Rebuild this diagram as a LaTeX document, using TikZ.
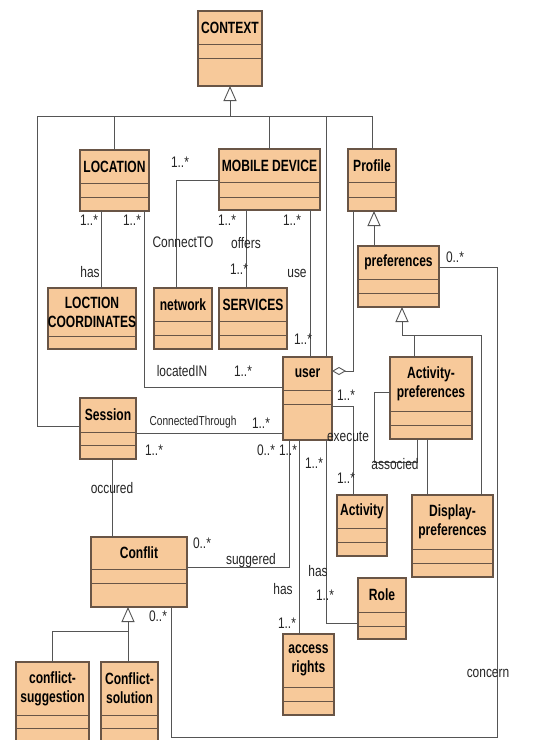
\documentclass[tikz,border=0pt]{standalone}
\usepackage{fontspec}
\setmainfont{Liberation Sans}
\newfontfamily\titlefont[FakeStretch=0.74]{Liberation Sans}
\newfontfamily\labfont[FakeStretch=0.78]{Liberation Sans}
\usetikzlibrary{arrows.meta,fit}
\definecolor{boxfill}{RGB}{247,201,154}
\definecolor{boxline}{RGB}{105,85,70}
\definecolor{connline}{RGB}{85,85,85}
\tikzset{
  clsbox/.style={draw=boxline, fill=boxfill, line width=1.1pt, inner sep=0pt, outer sep=0pt},
  septhin/.style={draw=boxline, line width=1pt},
  clstitle/.style={font=\titlefont\bfseries\fontsize{16.3}{19}\selectfont, align=center, inner sep=0pt},
  conn/.style={draw=connline, line width=0.9pt},
  lab/.style={font=\labfont\fontsize{15.3}{16}\selectfont, inner sep=0pt, text=black!85},
  smalllab/.style={font=\labfont\fontsize{13}{14}\selectfont, inner sep=0pt, text=black!85},
  gen/.style={-{Triangle[fill=white,length=15pt,width=13pt]}},
  agg/.style={-{Diamond[fill=white,length=14pt,width=8pt]}},
}
\newcommand{\umlcls}[8]{%
  \node[clsbox, fit={(#2,#3) (#4,#5)}] (#1) {};
  \draw[septhin] (#2,#6) -- (#4,#6);
  \draw[septhin] (#2,#7) -- (#4,#7);
  \node[clstitle] (#1-t) at ({(#2+#4)/2},{(#3+#6)/2}) {#8};
}
\begin{document}
\begin{tikzpicture}[x=1pt,y=-1pt]
\clip (0,0) rectangle (541,740);
\fill[white] (0,0) rectangle (541,740);
% classes
\umlcls{ctx}{198}{11}{262}{86}{44}{58}{CONTEXT}
\umlcls{loc}{80}{150}{149}{211}{183}{197}{LOCATION}
\umlcls{md}{219}{149}{320}{210}{182}{197}{MOBILE DEVICE}
\umlcls{prof}{348}{149}{396}{211}{182}{197}{Profile}
\umlcls{lc}{48}{288}{136}{349}{336}{336}{LOCTION\\COORDINATES}
\umlcls{net}{154}{288}{212}{349}{321}{335}{network}
\umlcls{serv}{219}{288}{287}{349}{321}{335}{SERVICES}
\umlcls{pref}{358}{246}{439}{307}{279}{293}{preferences}
\umlcls{user}{283}{357}{332}{440}{390}{404}{user}
\umlcls{actp}{390}{357}{472}{439}{411}{425}{Activity-\\preferences}
\umlcls{sess}{80}{398}{136}{459}{432}{445}{Session}
\umlcls{act}{337}{495}{387}{556}{528}{542}{Activity}
\umlcls{dispp}{412}{495}{493}{577}{549}{563}{Display-\\preferences}
\umlcls{role}{358}{578}{406}{639}{612}{626}{Role}
\umlcls{conf}{91}{537}{187}{607}{569}{583}{Conflit}
\umlcls{acc}{283}{634}{334}{715}{687}{701}{access\\rights}
\umlcls{cs}{16}{662}{89}{760}{715}{728}{conflict-\\suggestion}
\umlcls{csol}{101}{662}{158}{760}{715}{728}{Conflict-\\solution}
% generalization tree from CONTEXT
\draw[conn,gen] (230,116) -- (ctx.south);
\draw[conn] (sess.west |- 0,426) -| (37,116) -| (prof.north);
\draw[conn] (loc.north) -- (loc.north |- 0,116);
\draw[conn] (md.north) -- (md.north |- 0,116);
\draw[conn] (user.north -| 326,0) -- (326,116);
% associations
\draw[conn] (loc.south -| 101,0) -- (lc.north -| 101,0);
\draw[conn] (loc.south -| 144,0) |- (user.west |- 0,387);
\draw[conn] (md.west |- 0,180) -| (net.north -| 176,0);
\draw[conn] (md.south -| 246,0) -- (serv.north -| 246,0);
\draw[conn] (md.south -| 310,0) -- (user.north -| 310,0);
\draw[conn,agg] (prof.south -| 353,0) |- (user.east |- 0,371);
\draw[conn,gen] (pref.north -| 374,0) -- (prof.south -| 374,0);
\draw[conn] (actp.north -| 414,0) -- (414,335);
\draw[conn,gen] (dispp.north -| 481,0) |- (402,335) -- (pref.south -| 402,0);
\draw[conn] (pref.east |- 0,267) -| (497,737) -| (conf.south -| 171,0);
\draw[conn] (actp.south -| 427,0) -- (dispp.north -| 427,0);
\draw[conn] (actp.west |- 0,392) -| (374,462) -| (actp.south -| 417,0);
\draw[conn] (user.east |- 0,406) -| (act.north -| 353,0);
\draw[conn] (sess.east |- 0,433) -- (user.west |- 0,433);
\draw[conn] (sess.south -| 112,0) -- (conf.north -| 112,0);
\draw[conn] (user.south -| 289,0) |- (conf.east |- 0,567);
\draw[conn] (user.south -| 299,0) -- (acc.north -| 299,0);
\draw[conn] (user.south -| 326,0) |- (role.west |- 0,623);
\draw[conn] (cs.north) |- (128,631);
\draw[conn,gen] (csol.north -| 128,0) -- (conf.south -| 128,0);
% labels
\node[lab] (l1) at (89,220) {1..*};
\node[lab] (l2) at (132,220) {1..*};
\node[lab] (l3) at (180,162) {1..*};
\node[lab] (l4) at (227,220) {1..*};
\node[lab] (l5) at (292,220) {1..*};
\node[lab] (l6) at (183,242) {ConnectTO};
\node[lab] (l7) at (246,243) {offers};
\node[lab] (l8) at (239,269) {1..*};
\node[lab] (l9) at (297,273) {use};
\node[lab] (l10) at (90,272) {has};
\node[lab] (l11) at (182,371) {locatedIN};
\node[lab] (l12) at (243,371) {1..*};
\node[lab] (l13) at (303,339) {1..*};
\node[smalllab] (l14) at (193,422) {ConnectedThrough};
\node[lab] (l15) at (261,423) {1..*};
\node[lab] (l16) at (154,450) {1..*};
\node[lab] (l17) at (266,450) {0..*};
\node[lab] (l18) at (288,450) {1..*};
\node[lab] (l19) at (314,463) {1..*};
\node[lab] (l20) at (346,395) {1..*};
\node[lab] (l21) at (348,437) {execute};
\node[lab] (l22) at (346,478) {1..*};
\node[lab] (l23) at (395,464) {associed};
\node[lab] (l24) at (455,257) {0..*};
\node[lab] (l25) at (112,488) {occured};
\node[lab] (l26) at (202,543) {0..*};
\node[lab] (l27) at (251,561) {suggered};
\node[lab] (l28) at (158,616) {0..*};
\node[lab] (l29) at (283,589) {has};
\node[lab] (l30) at (287,623) {1..*};
\node[lab] (l31) at (318,571) {has};
\node[lab] (l32) at (325,595) {1..*};
\node[lab] (l33) at (488,673) {concern};
\end{tikzpicture}
\end{document}
